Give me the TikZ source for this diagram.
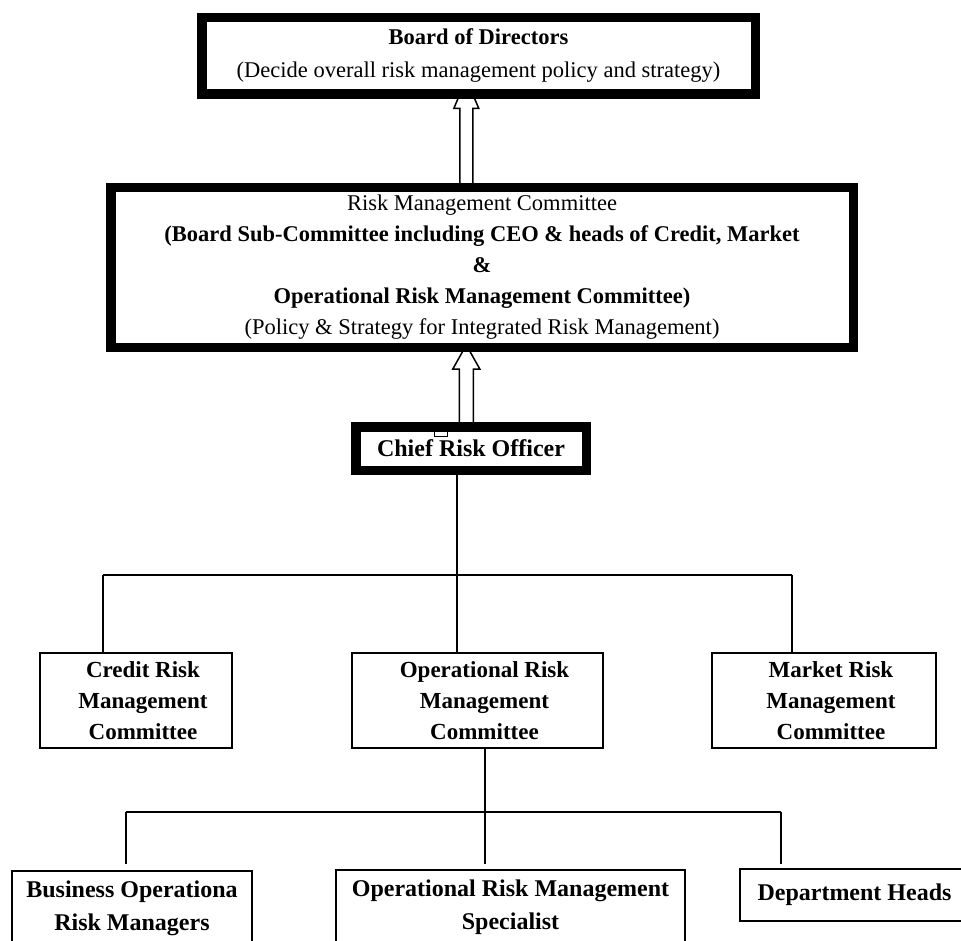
\documentclass[tikz,border=0pt]{standalone}
\usepackage{fontspec}
\setmainfont{Liberation Serif}
\usetikzlibrary{calc,backgrounds}

\tikzset{
  heavybox/.style={draw, line width=9.5pt, fill=white, align=center, inner sep=0pt},
  lightbox/.style={draw, line width=1.8pt, fill=white, align=center, inner sep=0pt},
  link/.style={line width=1.8pt},
  hollowarrow/.style={line width=1.5pt, fill=white, line join=miter},
}

\begin{document}
\begin{tikzpicture}[x=1pt, y=1pt]
  \useasboundingbox (0,0) rectangle (961,-941);
  \clip (0,0) rectangle (961,-941);

  % upper chain, heavy frames
  \node[heavybox, minimum width=553.5pt, minimum height=76.5pt,
        font=\fontsize{22.5}{33}\selectfont] (board) at (478.5,-56)
    {\textbf{Board of Directors}\\(Decide overall risk management policy and strategy)};
  \node[heavybox, minimum width=742.5pt, minimum height=159.5pt,
        font=\fontsize{22.5}{31}\selectfont] (rmc) at (482,-267.5)
    {Risk Management Committee\\
     \textbf{(Board Sub-Committee including CEO \& heads of Credit, Market}\\
     \textbf{\&}\\
     \textbf{Operational Risk Management Committee)}\\
     (Policy \& Strategy for Integrated Risk Management)};
  \node[heavybox, minimum width=230.5pt, minimum height=43.5pt,
        font=\fontsize{24}{30}\selectfont\bfseries] (cro) at (471,-448.5) {Chief Risk Officer};
  \draw[line width=1pt, fill=white] ($(cro.north)+(-37,-9)$) rectangle ++(13,-5);

  % committees
  \foreach \name/\x/\w/\txt in {credit/136/192/Credit Risk,
                               orm/477.5/251/Operational Risk,
                               market/824/224/Market Risk} {
    \node[lightbox, minimum width=\w pt, minimum height=95pt,
          font=\fontsize{23}{31}\selectfont\bfseries] (\name) at (\x,-700.5)
      {\hspace*{14pt}\txt\\\hspace*{14pt}Management\\\hspace*{14pt}Committee};
  }

  % bottom row
  \node[lightbox, minimum width=240pt, minimum height=74pt,
        font=\fontsize{24}{33}\selectfont\bfseries] (bizrm) at (132,-908)
    {Business Operationa\\Risk Managers};
  \node[lightbox, minimum width=349pt, minimum height=74pt,
        font=\fontsize{24}{33}\selectfont\bfseries] (ormspec) at (510.5,-907)
    {Operational Risk Management\\Specialist};
  \node[lightbox, minimum width=229pt, minimum height=52pt,
        font=\fontsize{24}{30}\selectfont\bfseries] (depthd) at (854.5,-895) {Department Heads};

  % hollow arrows up the chain
  \coordinate (spine) at (466.3,0);
  \begin{scope}[on background layer]
    \draw[hollowarrow] ($(spine |- rmc.north)+(-6.5,-6)$) -- ($(spine |- board.south)+(-6.5,-9.5)$)
      -- ++(-6,0) -- ($(spine |- board.south)+(0,20)$) -- ($(spine |- board.south)+(12.5,-9.5)$)
      -- ++(-6,0) -- ($(spine |- rmc.north)+(6.5,-6)$);
    \draw[hollowarrow] ($(spine |- cro.north)+(-7,0)$) -- ($(spine |- rmc.south)+(-7,-17)$)
      -- ++(-6.5,0) -- ($(spine |- rmc.south)+(0,7)$) -- ($(spine |- rmc.south)+(13.5,-17)$)
      -- ++(-6.5,0) -- ($(spine |- cro.north)+(7,0)$);
  \end{scope}

  % tree lines
  \coordinate (busAl) at (103,-575);
  \coordinate (busAm) at (457,-575);
  \coordinate (busAr) at (792,-575);
  \draw[link] (busAl) -- (busAr);
  \draw[link] (busAm |- cro.south) -- (busAm) -- (busAm |- orm.north);
  \draw[link] (busAl) -- (busAl |- credit.north);
  \draw[link] (busAr) -- (busAr |- market.north);

  \coordinate (busBl) at (126,-812);
  \coordinate (busBm) at (485,-812);
  \coordinate (busBr) at (781,-812);
  \draw[link] (busBl) -- (busBr);
  \draw[link] (busBm |- orm.south) -- (busBm) -- ++(0,-52);
  \draw[link] (busBl) -- ++(0,-52);
  \draw[link] (busBr) -- ++(0,-52);
\end{tikzpicture}
\end{document}
